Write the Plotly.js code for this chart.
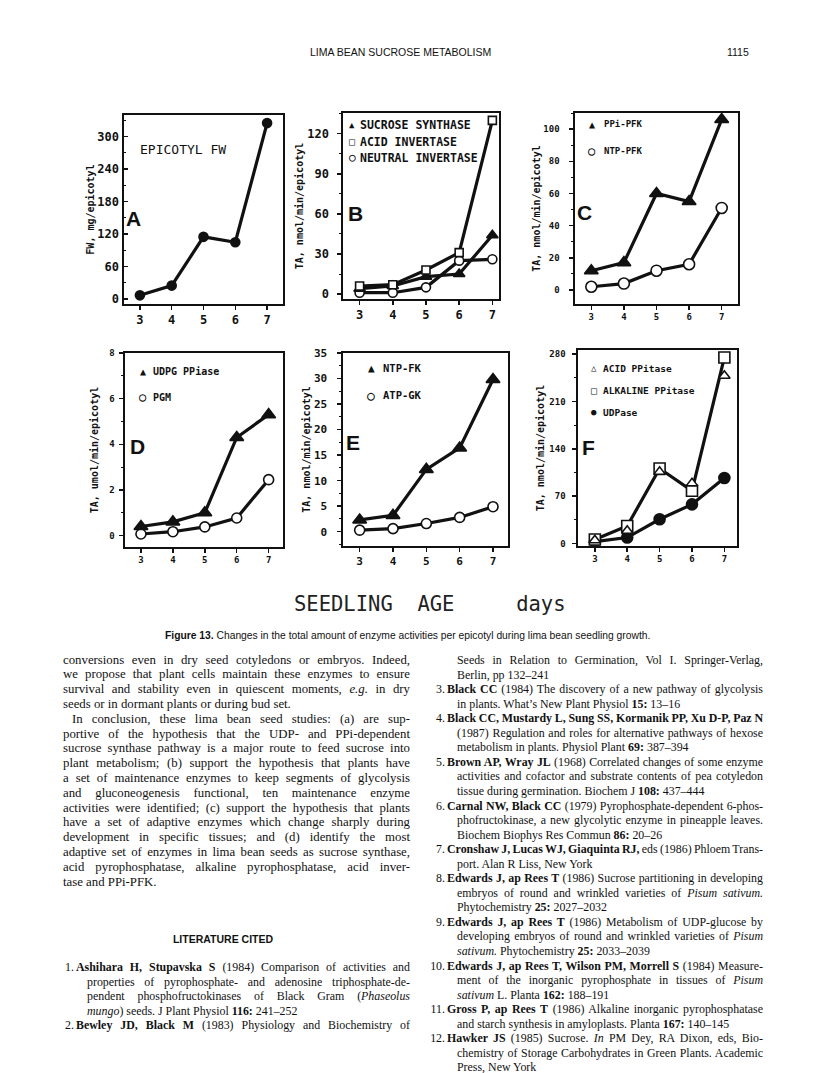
<!DOCTYPE html>
<html><head><meta charset="utf-8">
<script src="https://cdn.plot.ly/plotly-3.0.1.min.js"></script>
<style>
html,body{margin:0;padding:0;background:#fff;}
#page{position:relative;width:816px;height:1073px;overflow:hidden;background:#fff;}
#chart{position:absolute;left:0;top:0;width:816px;height:1073px;}
.ln{position:absolute;white-space:nowrap;color:#111;}
.body{font-family:"Liberation Serif","Times New Roman",serif;font-size:12.8px;}
.ref{font-family:"Liberation Serif","Times New Roman",serif;font-size:11.9px;}
.sans{font-family:"Liberation Sans",Arial,sans-serif;font-size:10.5px;}
</style></head><body>
<div id="page"><div id="chart"></div></div>
<script>
// ---------------- data ----------------
const days = [3, 4, 5, 6, 7];
const epicotylFW = [7, 25, 115, 105, 325];
const sucroseSynthase = [4, 6, 13, 15, 44];
const acidInvertase = [6, 7, 18, 31, 130];
const neutralInvertase = [1, 1, 5, 25, 26];
const ppiPFK = [12, 17, 60, 55, 106];
const ntpPFK = [2, 4, 12, 16, 51];
const udpgPPiase = [0.4, 0.6, 1.0, 4.3, 5.3];
const pgm = [0.07, 0.17, 0.38, 0.77, 2.45];
const ntpFK = [2.3, 3.2, 12.2, 16.4, 29.8];
const atpGK = [0.3, 0.6, 1.6, 2.8, 4.9];
const acidPPiase = [5, 19, 106, 89, 248];
const alkalinePPiase = [6, 26, 111, 78, 275];
const udpase = [3, 9, 36, 58, 97];

// ---------------- layout helpers ----------------
const W = 816, H = 1073;
const MONO = '"DejaVu Sans Mono", monospace';
const BLACK = '#111';
function px(x){ return x / W; }
function py(y){ return 1 - y / H; }

// panel frames in page pixels: [left, right, top, bottom]
const frames = {
  A: [124, 283, 115, 304],
  B: [343, 499, 113, 299],
  C: [575, 738, 113, 304],
  D: [125, 283, 353, 547],
  E: [343, 508, 353, 546],
  F: [578, 737, 350, 546]
};

function xAx(f, fs){
  return {domain:[px(f[0]), px(f[1])], range:[2.5, 7.5], tickvals: days,
    ticks:'outside', ticklen:4, tickwidth:1.5, tickcolor:BLACK,
    showline:true, mirror:true, linewidth:1.6, linecolor:BLACK,
    showgrid:false, zeroline:false, fixedrange:true,
    tickfont:{family:MONO, size:fs, color:BLACK, weight:'bold'}};
}
function yAx(f, range, dtick, fs, title, stand, tickIn, lblStand){
  return {domain:[py(f[3]), py(f[2])], range: range, tickmode:'linear', tick0:0, dtick:dtick,
    ticks: tickIn ? 'inside' : 'outside', ticklen:4, tickwidth:1.5, tickcolor:BLACK,
    minor:{dtick:dtick/2, ticks: tickIn ? 'inside' : 'outside', ticklen:2, tickcolor:BLACK, tickwidth:1},
    showline:true, mirror:true, linewidth:1.6, linecolor:BLACK,
    showgrid:false, zeroline:false, fixedrange:true, ticklabelstandoff: lblStand,
    tickfont:{family:MONO, size:fs, color:BLACK, weight:'bold'},
    title:{text:title, standoff:stand, font:{family:MONO, size:10, color:BLACK, weight:'bold'}}};
}

const LW = 3.2;
function tr(ax, y, sym, size, fill, mode){
  return {x: days, y: y, xaxis:'x'+ax, yaxis:'y'+ax, mode: mode || 'lines+markers',
    line:{color:BLACK, width:LW}, cliponaxis:false,
    marker:{symbol:sym, size:size, color:fill, line:{color:BLACK, width:1.6}}, showlegend:false, hoverinfo:'skip'};
}

const traces = [
  tr('', epicotylFW, 'circle', 9, BLACK),
  tr('2', neutralInvertase, 'circle', 9, '#fff'),
  tr('2', sucroseSynthase, 'triangle-up', 10, BLACK),
  tr('2', acidInvertase, 'square', 8, '#fff'),
  tr('3', ntpPFK, 'circle', 11, '#fff'),
  tr('3', ppiPFK, 'triangle-up', 12, BLACK),
  tr('4', pgm, 'circle', 10, '#fff'),
  tr('4', udpgPPiase, 'triangle-up', 12, BLACK),
  tr('5', atpGK, 'circle', 10, '#fff'),
  tr('5', ntpFK, 'triangle-up', 12, BLACK),
  tr('6', udpase, 'circle', 11, BLACK),
  tr('6', alkalinePPiase, 'square', 11, '#fff'),
  tr('6', acidPPiase, 'triangle-up', 10, '#fff', 'markers')
];

function ann(x, y, text, size, anchor, opts){
  return Object.assign({xref:'paper', yref:'paper', x:px(x), y:py(y), text:text, showarrow:false,
    xanchor: anchor || 'left', yanchor:'middle',
    font:{family:MONO, size:size, color:BLACK, weight:'bold'}}, opts || {});
}
const LETTER = '"Liberation Sans Narrow","Liberation Sans",Arial,sans-serif';
function letter(x, y, t){
  return ann(x, y, t, 21, 'center', {font:{family:LETTER, size:21, color:BLACK, weight:'bold'}});
}

const annotations = [
  ann(138, 149, 'EPICOTYL FW', 13, 'left', {font:{family:MONO, size:13, color:BLACK}}),
  letter(133, 218, 'A'),
  ann(352, 125, '▲', 9, 'center'), ann(358, 125, 'SUCROSE SYNTHASE', 11.5),
  ann(352, 142, '□', 10, 'center'), ann(358, 142, 'ACID INVERTASE', 11.5),
  ann(352, 158, '○', 11, 'center'), ann(358, 158, 'NEUTRAL INVERTASE', 11.5),
  letter(355, 213, 'B'),
  ann(592, 124, '▲', 10, 'center'), ann(602, 124, 'PPi-PFK', 9),
  ann(592, 151, '○', 12, 'center'), ann(602, 151, 'NTP-PFK', 9),
  letter(584, 212, 'C'),
  ann(143, 372, '▲', 10, 'center'), ann(151, 372, 'UDPG PPiase', 10),
  ann(143, 397, '○', 12, 'center'), ann(151, 397, 'PGM', 10),
  letter(137, 446, 'D'),
  ann(371, 368, '▲', 11, 'center'), ann(381, 368, 'NTP-FK', 10.5),
  ann(371, 395, '○', 13, 'center'), ann(381, 395, 'ATP-GK', 10.5),
  letter(353, 442, 'E'),
  ann(594, 368, '△', 9, 'center'), ann(601, 368, 'ACID PPitase', 9.5),
  ann(594, 390, '□', 10, 'center'), ann(601, 390, 'ALKALINE PPitase', 9.5),
  ann(594, 412, '●', 9, 'center'), ann(601, 412, 'UDPase', 9.5),
  letter(588, 447, 'F'),
  ann(430, 604, 'SEEDLING&nbsp;&nbsp;AGE&nbsp;&nbsp;&nbsp;&nbsp;&nbsp;days', 20.5, 'center',
      {font:{family:MONO, size:20.5, color:'#222'}})
];

const layout = {
  width: W, height: H, margin:{l:0, r:0, t:0, b:0},
  paper_bgcolor:'rgba(0,0,0,0)', plot_bgcolor:'rgba(0,0,0,0)',
  showlegend:false,
  xaxis:  Object.assign(xAx(frames.A, 12), {anchor:'y'}),
  yaxis:  Object.assign(yAx(frames.A, [-9, 340], 60, 12, 'FW, mg/epicotyl', 1, true, 1), {anchor:'x'}),
  xaxis2: Object.assign(xAx(frames.B, 12), {anchor:'y2', range:[2.5, 7.2]}),
  yaxis2: Object.assign(yAx(frames.B, [-3.7, 135.5], 30, 12, 'TA, nmol/min/epicotyl', 2, false, 6), {anchor:'x2'}),
  xaxis3: Object.assign(xAx(frames.C, 9), {anchor:'y3'}),
  yaxis3: Object.assign(yAx(frames.C, [-8.7, 110], 20, 9, 'TA, nmol/min/epicotyl', 1, false, 8), {anchor:'x3'}),
  xaxis4: Object.assign(xAx(frames.D, 9), {anchor:'y4', range:[2.5, 7.45]}),
  yaxis4: Object.assign(yAx(frames.D, [-0.5, 8], 2, 9, 'TA, umol/min/epicotyl', 8, false, 3), {anchor:'x4'}),
  xaxis5: Object.assign(xAx(frames.E, 11), {anchor:'y5', range:[2.5, 7.45]}),
  yaxis5: Object.assign(yAx(frames.E, [-2.8, 35], 5, 11, 'TA, nmol/min/epicotyl', 1, false, 8), {anchor:'x5'}),
  xaxis6: Object.assign(xAx(frames.F, 9), {anchor:'y6', range:[2.48, 7.39]}),
  yaxis6: Object.assign(yAx(frames.F, [-3.5, 286], 70, 9, 'TA, nmol/min/epicotyl', 3, false, 5), {anchor:'x6'}),
  annotations: annotations
};

Plotly.newPlot('chart', traces, layout, {displayModeBar:false, staticPlot:true});

// ---------------- page text ----------------
const page = document.getElementById('page');
function line(x, yc, w, html, cls, justify, lh){
  lh = lh || 14.8;
  const d = document.createElement('div');
  d.className = 'ln ' + cls;
  d.style.left = x + 'px';
  d.style.top = (yc - lh / 2) + 'px';
  d.style.lineHeight = lh + 'px';
  d.innerHTML = html;
  page.appendChild(d);
  if (justify && w) {
    const nat = d.getBoundingClientRect().width;
    const spaces = (d.textContent.match(/ /g) || []).length;
    if (spaces > 0) d.style.wordSpacing = ((w - nat) / spaces) + 'px';
  }
  return d;
}

// header
line(310, 52, 0, 'LIMA BEAN SUCROSE METABOLISM', 'sans', false);
line(727, 52, 0, '1115', 'sans', false);
// caption
const cap = line(165, 636, 0, '<b>Figure 13.</b> Changes in the total amount of enzyme activities per epicotyl during lima bean seedling growth.', 'sans', false);
(function(){ const w = cap.getBoundingClientRect().width; const fs = 10.5 * 486 / w; cap.style.fontSize = fs + 'px'; })();

// left column body
const L0 = 63, LW0 = 347;
const bodyLines = [
  ['conversions even in dry seed cotyledons or embryos. Indeed,', 0, true],
  ['we propose that plant cells maintain these enzymes to ensure', 0, true],
  ['survival and stability even in quiescent moments, <i>e.g.</i> in dry', 0, true],
  ['seeds or in dormant plants or during bud set.', 0, false],
  ['In conclusion, these lima bean seed studies: (a) are sup-', 9, true],
  ['portive of the hypothesis that the UDP- and PPi-dependent', 0, true],
  ['sucrose synthase pathway is a major route to feed sucrose into', 0, true],
  ['plant metabolism; (b) support the hypothesis that plants have', 0, true],
  ['a set of maintenance enzymes to keep segments of glycolysis', 0, true],
  ['and gluconeogenesis functional, ten maintenance enzyme', 0, true],
  ['activities were identified; (c) support the hypothesis that plants', 0, true],
  ['have a set of adaptive enzymes which change sharply during', 0, true],
  ['development in specific tissues; and (d) identify the most', 0, true],
  ['adaptive set of enzymes in lima bean seeds as sucrose synthase,', 0, true],
  ['acid pyrophosphatase, alkaline pyrophosphatase, acid inver-', 0, true],
  ['tase and PPi-PFK.', 0, false]
];
bodyLines.forEach((b, i) => line(L0 + b[1], 660 + i * 14.8, LW0 - b[1], b[0], 'body', b[2]));

const lit = line(0, 939, 0, '<b>LITERATURE CITED</b>', 'sans', false);
lit.style.left = (223 - lit.getBoundingClientRect().width / 2) + 'px';

// references: [number or '', text, justify]
const RLH = 14.55, RBOX = 10;
function refs(list, numRight, textX, contX, right, y0){
  list.forEach((r, i) => {
    const y = y0 + i * RLH;
    if (r[0]) {
      const n = line(0, y, 0, r[0], 'ref', false, RBOX);
      n.style.left = (numRight - n.getBoundingClientRect().width) + 'px';
      line(textX, y, right - textX, r[1], 'ref', r[2], RBOX);
    } else {
      line(contX, y, right - contX, r[1], 'ref', r[2], RBOX);
    }
  });
}
const leftRefs = [
  ['1.', '<b>Ashihara H, Stupavska S</b> (1984) Comparison of activities and', true],
  ['', 'properties of pyrophosphate- and adenosine triphosphate-de-', true],
  ['', 'pendent phosphofructokinases of Black Gram (<i>Phaseolus</i>', true],
  ['', '<i>mungo</i>) seeds. J Plant Physiol <b>116:</b> 241–252', false],
  ['2.', '<b>Bewley JD, Black M</b> (1983) Physiology and Biochemistry of', true]
];
refs(leftRefs, 74, 76, 87, 410, 967);

const rightRefs = [
  ['', 'Seeds in Relation to Germination, Vol I. Springer-Verlag,', true],
  ['', 'Berlin, pp 132–241', false],
  ['3.', '<b>Black CC</b> (1984) The discovery of a new pathway of glycolysis', true],
  ['', 'in plants. What’s New Plant Physiol <b>15:</b> 13–16', false],
  ['4.', '<b>Black CC, Mustardy L, Sung SS, Kormanik PP, Xu D-P, Paz N</b>', true],
  ['', '(1987) Regulation and roles for alternative pathways of hexose', true],
  ['', 'metabolism in plants. Physiol Plant <b>69:</b> 387–394', false],
  ['5.', '<b>Brown AP, Wray JL</b> (1968) Correlated changes of some enzyme', true],
  ['', 'activities and cofactor and substrate contents of pea cotyledon', true],
  ['', 'tissue during germination. Biochem J <b>108:</b> 437–444', false],
  ['6.', '<b>Carnal NW, Black CC</b> (1979) Pyrophosphate-dependent 6-phos-', true],
  ['', 'phofructokinase, a new glycolytic enzyme in pineapple leaves.', true],
  ['', 'Biochem Biophys Res Commun <b>86:</b> 20–26', false],
  ['7.', '<b>Cronshaw J, Lucas WJ, Giaquinta RJ,</b> eds (1986) Phloem Trans-', true],
  ['', 'port. Alan R Liss, New York', false],
  ['8.', '<b>Edwards J, ap Rees T</b> (1986) Sucrose partitioning in developing', true],
  ['', 'embryos of round and wrinkled varieties of <i>Pisum sativum.</i>', true],
  ['', 'Phytochemistry <b>25:</b> 2027–2032', false],
  ['9.', '<b>Edwards J, ap Rees T</b> (1986) Metabolism of UDP-glucose by', true],
  ['', 'developing embryos of round and wrinkled varieties of <i>Pisum</i>', true],
  ['', '<i>sativum.</i> Phytochemistry <b>25:</b> 2033–2039', false],
  ['10.', '<b>Edwards J, ap Rees T, Wilson PM, Morrell S</b> (1984) Measure-', true],
  ['', 'ment of the inorganic pyrophosphate in tissues of <i>Pisum</i>', true],
  ['', '<i>sativum</i> L. Planta <b>162:</b> 188–191', false],
  ['11.', '<b>Gross P, ap Rees T</b> (1986) Alkaline inorganic pyrophosphatase', true],
  ['', 'and starch synthesis in amyloplasts. Planta <b>167:</b> 140–145', false],
  ['12.', '<b>Hawker JS</b> (1985) Sucrose. <i>In</i> PM Dey, RA Dixon, eds, Bio-', true],
  ['', 'chemistry of Storage Carbohydrates in Green Plants. Academic', true],
  ['', 'Press, New York', false]
];
refs(rightRefs, 445, 447, 457, 763, 660);
</script>
</body></html>
